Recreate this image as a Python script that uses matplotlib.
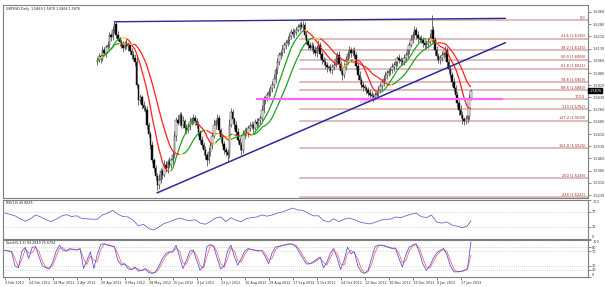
import numpy as np
import pandas as pd
import matplotlib

matplotlib.use("Agg")
import matplotlib.pyplot as plt
from matplotlib.collections import LineCollection
from matplotlib.transforms import blended_transform_factory

# ---- data --------------------------------------------------------------------
first_bar = 54          # bars before this have no candles drawn
first_open = 1.6050

closes = [
    1.6065, 1.6090, 1.6072, 1.6126, 1.6110, 1.6145, 1.6157, 1.6219, 1.6205, 1.6250,
    1.6286, 1.6219, 1.6195, 1.6176, 1.6160, 1.6139, 1.6168, 1.6150, 1.6157, 1.6120,
    1.6096, 1.6080, 1.6053, 1.5911, 1.5819, 1.5835, 1.5788, 1.5770, 1.5757, 1.5665,
    1.5610, 1.5542, 1.5450, 1.5400, 1.5350, 1.5296, 1.5330, 1.5380, 1.5360, 1.5420,
    1.5400, 1.5440, 1.5420, 1.5450, 1.5480, 1.5600, 1.5696, 1.5680, 1.5727, 1.5665,
    1.5690, 1.5650, 1.5634, 1.5660, 1.5683, 1.5700, 1.5708, 1.5690, 1.5665, 1.5620,
    1.5573, 1.5540, 1.5511, 1.5480, 1.5450, 1.5500, 1.5542, 1.5600, 1.5665, 1.5690,
    1.5708, 1.5634, 1.5590, 1.5550, 1.5511, 1.5500, 1.5481, 1.5665, 1.5745, 1.5700,
    1.5665, 1.5620, 1.5573, 1.5540, 1.5511, 1.5604, 1.5630, 1.5615, 1.5647, 1.5660,
    1.5665, 1.5650, 1.5683, 1.5670, 1.5695, 1.5708, 1.5760, 1.5819, 1.5830, 1.5850,
    1.5870, 1.5890, 1.5911, 1.5950, 1.6003, 1.6050, 1.6096, 1.6110, 1.6135, 1.6157,
    1.6170, 1.6188, 1.6210, 1.6237, 1.6225, 1.6240, 1.6249, 1.6265, 1.6280, 1.6270,
    1.6280, 1.6219, 1.6180, 1.6157, 1.6140, 1.6150, 1.6126, 1.6110, 1.6139, 1.6157,
    1.6100, 1.6065, 1.6050, 1.6034, 1.6020, 1.6015, 1.6003, 1.6020, 1.6034, 1.6070,
    1.6096, 1.6040, 1.6000, 1.5972, 1.6020, 1.6065, 1.6100, 1.6126, 1.6110, 1.6120,
    1.6096, 1.6030, 1.5972, 1.5940, 1.5911, 1.5900, 1.5890, 1.5880, 1.5865, 1.5850,
    1.5845, 1.5837, 1.5850, 1.5865, 1.5880, 1.5905, 1.5929, 1.5950, 1.5972, 1.5985,
    1.5995, 1.6003, 1.6020, 1.6034, 1.6050, 1.6077, 1.6065, 1.6060, 1.6053, 1.6075,
    1.6096, 1.6125, 1.6157, 1.6190, 1.6220, 1.6249, 1.6219, 1.6200, 1.6195, 1.6188,
    1.6170, 1.6157, 1.6165, 1.6176, 1.6200, 1.6249, 1.6190, 1.6126, 1.6090, 1.6065,
    1.6080, 1.6096, 1.6110, 1.6126, 1.6053, 1.6010, 1.5972, 1.5930, 1.5893, 1.5850,
    1.5800, 1.5760, 1.5730, 1.5700, 1.5690, 1.5705, 1.5720, 1.5830, 1.5876,
]

# wick lengths in pips above / below the candle body
upper_wick = [
    14, 20, 11, 25, 16, 12, 22, 18, 15, 24, 13, 19, 26, 12, 17, 21, 14, 23, 16, 11,
    18, 25, 20, 30, 15, 22, 17, 28, 19, 24, 21, 16, 27, 13, 20, 18, 35, 22, 15, 29,
    24, 17, 31, 14, 22, 26, 19, 33, 21, 16, 28, 15, 23, 18, 30, 12, 25, 20, 17, 27,
    14, 22, 19, 26, 16, 32, 21, 18, 35, 15, 24, 20, 13, 28, 17, 22, 18, 40, 26, 19,
    15, 23, 29, 17, 21, 30, 16, 25, 18, 22, 27, 14, 20, 24, 16, 19, 28, 22, 15, 21,
    25, 18, 23, 30, 17, 26, 20, 14, 22, 19, 16, 24, 18, 21, 27, 15, 20, 23, 18, 25,
    22, 19, 26, 15, 21, 28, 17, 24, 20, 30, 18, 23, 16, 27, 21, 14, 25, 19, 22, 28,
    17, 24, 20, 15, 29, 22, 18, 26, 16, 21, 25, 19, 14, 23, 18, 27, 20, 16, 22, 19,
    24, 17, 21, 15, 26, 20, 18, 23, 28, 16, 22, 19, 25, 17, 21, 14, 27, 20, 18, 24,
    16, 23, 19, 28, 21, 26, 18, 22, 15, 25, 20, 17, 24, 19, 30, 93, 22, 18, 26, 20,
    15, 23, 19, 28, 17, 21, 25, 18, 22, 16, 24, 19, 27, 20, 15, 23, 18, 26, 10,
]
lower_wick = [
    18, 12, 24, 15, 20, 27, 13, 19, 22, 16, 21, 17, 14, 26, 19, 23, 15, 20, 28, 18,
    24, 16, 22, 19, 30, 17, 25, 21, 14, 27, 19, 23, 17, 26, 20, 31, 24, 18, 29, 15,
    22, 27, 16, 21, 25, 18, 30, 14, 23, 20, 17, 26, 21, 15, 24, 19, 28, 22, 16, 25,
    20, 18, 27, 23, 35, 17, 22, 26, 15, 21, 24, 19, 28, 16, 22, 25, 38, 20, 14, 23,
    27, 18, 21, 25, 32, 16, 24, 19, 22, 17, 21, 26, 15, 23, 19, 28, 17, 22, 25, 18,
    14, 24, 20, 17, 26, 21, 15, 23, 19, 27, 22, 18, 25, 16, 20, 24, 19, 13, 21, 17,
    26, 20, 18, 23, 15, 22, 27, 19, 24, 16, 21, 25, 18, 22, 28, 20, 17, 24, 19, 15,
    23, 27, 21, 30, 18, 16, 22, 20, 25, 19, 17, 24, 28, 21, 19, 23, 16, 26, 20, 30,
    22, 28, 18, 24, 20, 17, 25, 21, 15, 23, 19, 24, 16, 22, 27, 20, 18, 25, 21, 17,
    23, 19, 26, 15, 22, 20, 28, 24, 18, 21, 25, 17, 22, 27, 19, 24, 20, 28, 23, 18,
    26, 21, 17, 24, 30, 22, 19, 27, 23, 28, 25, 30, 22, 26, 25, 20, 28, 24, 12,
]

# RSI(14), read every 3 bars (last point is the final bar)
rsi_bars = list(range(0, 271, 3)) + [272]
rsi_values = [
    66, 63, 59, 51, 45, 51, 61, 56, 49, 44, 50, 58, 62, 57, 59, 52, 51, 50, 50, 61,
    66, 73, 63, 57, 56, 47, 33, 37, 26, 22, 30, 39, 43, 49, 53, 49, 46, 49, 40, 37,
    44, 53, 56, 44, 54, 47, 44, 52, 54, 56, 61, 58, 61, 66, 69, 74, 79, 74, 73, 66,
    59, 59, 47, 43, 51, 44, 50, 53, 49, 43, 40, 38, 42, 47, 50, 50, 56, 54, 59, 63,
    66, 57, 54, 61, 43, 40, 43, 35, 32, 28, 33, 45.86,
]

# Stochastic %K, read every 2 bars
stoch_bars = list(range(0, 273, 2))
stoch_main = [
    72, 70, 68, 30, 25, 70, 80, 50, 80, 82, 55, 30, 25, 22, 40, 70, 86, 72, 70, 77,
    74, 73, 77, 23, 45, 68, 23, 60, 88, 90, 86, 84, 81, 45, 32, 36, 22, 20, 27, 16,
    18, 23, 12, 10, 14, 30, 50, 63, 68, 68, 86, 55, 23, 45, 70, 72, 45, 18, 30, 82,
    88, 81, 50, 22, 30, 70, 86, 55, 32, 50, 70, 77, 74, 72, 70, 72, 55, 36, 65, 81,
    83, 86, 87, 90, 88, 82, 65, 50, 35, 36, 41, 48, 54, 25, 40, 65, 77, 50, 20, 45,
    81, 63, 68, 30, 14, 10, 18, 50, 82, 86, 86, 83, 80, 77, 78, 50, 27, 60, 81, 86,
    90, 65, 35, 18, 30, 50, 65, 72, 77, 60, 30, 14, 14, 15, 18, 23, 94.28,
]

date_ticks = [
    "3 Feb 2012", "24 Feb 2012", "14 Mar 2012", "2 Apr 2012", "20 Apr 2012",
    "9 May 2012", "28 May 2012", "15 Jun 2012", "4 Jul 2012", "23 Jul 2012",
    "10 Aug 2012", "29 Aug 2012", "17 Sep 2012", "5 Oct 2012", "24 Oct 2012",
    "12 Nov 2012", "30 Nov 2012", "19 Dec 2012", "8 Jan 2013", "27 Jan 2013",
]
bars_per_tick = 14

fib_ratios = ["0.0", "23.6", "38.2", "50.0", "61.8", "78.6", "88.6", "100.0",
              "113", "127.2", "161.8", "200", "224"]
fib_prices = [1.6311, 1.6196, 1.6125, 1.6068, 1.6011, 1.5929, 1.5880, 1.5825,
              1.5762, 1.5693, 1.5525, 1.5339, 1.5222]
fib_start_bar = 172

top_line = ([64, 292], [1.6300, 1.6321])
trend_line = ([89, 292], [1.5249, 1.6171])
pivot_line = ([147, 290], [1.5825, 1.5825])

price_ticks = [1.6360, 1.6285, 1.6210, 1.6135, 1.6060, 1.5985, 1.5910, 1.5835,
               1.5760, 1.5685, 1.5610, 1.5535, 1.5460, 1.5385, 1.5310, 1.5235]
last_price = 1.5876

# ---- derived candle arrays ---------------------------------------------------
close = np.array(closes)
idx = np.arange(first_bar, first_bar + len(close))
opn = np.concatenate([[first_open], close[:-1]])
high = np.maximum(opn, close) + np.array(upper_wick) * 1e-4
low = np.minimum(opn, close) - np.array(lower_wick) * 1e-4

# ---- figure ------------------------------------------------------------------
W, H = 605, 287
fig = plt.figure(figsize=(W / 100, H / 100), dpi=100)


def box(x0, y0, x1, y1):
    return [x0 / W, 1 - y1 / H, (x1 - x0) / W, (y1 - y0) / H]


ax = fig.add_axes(box(3, 5, 588, 198))
ax_rsi = fig.add_axes(box(3, 200, 588, 238.5), sharex=ax)
ax_st = fig.add_axes(box(3, 240, 588, 277), sharex=ax)

FS = 2.5
for a in (ax, ax_rsi, ax_st):
    for s in a.spines.values():
        s.set_color("#7f7f7f")
        s.set_linewidth(0.8)
    a.yaxis.tick_right()
    a.tick_params(axis="y", length=2, width=0.4, labelsize=FS, pad=1, colors="#333333")
    a.tick_params(axis="x", length=0, labelbottom=False)

ax.set_xlim(-1, 340.3)
ax.set_ylim(1.5217, 1.6403)

# candles
up = close >= opn
ax.vlines(idx, low, high, color="#707070", lw=0.7, zorder=2)
ax.bar(idx, close - opn, bottom=opn, width=0.85,
       color=np.where(up, "white", "black"), edgecolor="#202020", lw=0.35, zorder=3)


def colored_ma(a, x, y):
    pts = np.column_stack([x, y])
    segs = np.stack([pts[:-1], pts[1:]], axis=1)
    d = np.sign(np.diff(y))
    cols = []
    for k in range(len(d)):
        if k > 0 and d[k] != d[k - 1]:
            cols.append("#ffd200")
        else:
            cols.append("#1b9e1b" if d[k] >= 0 else "#ff1a1a")
    a.add_collection(LineCollection(segs, colors=cols, lw=0.9, zorder=4))


s = pd.Series(close)
for n in (10, 20):
    ma = s.rolling(n, min_periods=1).mean().to_numpy()
    colored_ma(ax, idx, ma)

# fibonacci levels
xr = ax.get_xlim()[1]
trans = blended_transform_factory(ax.transAxes, ax.transData)
for r, p in zip(fib_ratios, fib_prices):
    ax.plot([fib_start_bar, xr], [p, p], color="#d7a9a9", lw=1.1, zorder=1)
    txt = r if r in ("0.0", "100.0") else f"{r} ({p:.4f})"
    ax.text(0.995, p + 0.0002, txt, transform=trans, ha="right", va="bottom",
            fontsize=FS, color="#9b1c1c")

ax.plot(*pivot_line, color="#ff66ff", lw=1.6, zorder=5)
ax.text(210, pivot_line[1][0] - 0.0006, "1.5825", ha="center", va="top",
        fontsize=FS, color="#ff44ff")
ax.plot(*top_line, color="#2a2a9a", lw=1.0, zorder=5)
ax.plot(*trend_line, color="#2a2a9a", lw=1.1, zorder=5)

ax.set_yticks(price_ticks)
ax.set_yticklabels([f"{t:.4f}" for t in price_ticks])
ax.text(1.002, last_price, f"{last_price:.4f}", transform=trans, ha="left", va="center",
        fontsize=FS, color="white",
        bbox=dict(boxstyle="square,pad=0.2", fc="black", ec="black"))
ax.text(0.005, 0.99, "GBPUSD,Daily  1.5869 1.5878 1.5868 1.5876", transform=ax.transAxes,
        ha="left", va="top", fontsize=2.3, color="#222222")

# RSI
grid = dict(color="#b8b8b8", lw=0.5, ls=(0, (1, 2)))
ax_rsi.set_ylim(0, 100)
for g in (70, 30):
    ax_rsi.axhline(g, **grid)
ax_rsi.plot(rsi_bars, rsi_values, color="#6a6ad0", lw=0.6)
ax_rsi.set_yticks([100, 70, 30, 0])
ax_rsi.set_yticklabels(["100", "70", "30", "0"])
ax_rsi.text(0.005, 0.97, "RSI(14) 45.8645", transform=ax_rsi.transAxes,
            ha="left", va="top", fontsize=2.3, color="#222222")

# Stochastic
st_main = pd.Series(stoch_main)
st_sig = st_main.rolling(2, min_periods=1).mean()
ax_st.set_ylim(0, 100)
for g in (80, 70, 30, 20):
    ax_st.axhline(g, **grid)
ax_st.plot(stoch_bars, st_sig, color="#ff6a6a", lw=0.6)
ax_st.plot(stoch_bars, st_main, color="#5a5ae0", lw=0.6)
ax_st.set_yticks([100, 80, 70, 30, 20, 0])
ax_st.set_yticklabels(["100", "80", "70", "30", "20", "0"])
ax_st.text(0.005, 0.97, "Stoch(5,3,3) 94.2849 75.6704", transform=ax_st.transAxes,
           ha="left", va="top", fontsize=2.3, color="#222222")

for a in (ax_rsi, ax_st):
    labs = a.get_yticklabels()
    labs[0].set_va("top")
    labs[-1].set_va("bottom")

ax_st.set_xticks(np.arange(len(date_ticks)) * bars_per_tick)
ax_st.set_xticklabels(date_ticks)
ax_st.tick_params(axis="x", length=2, width=0.4, labelsize=2.4, pad=1,
                  labelbottom=True, colors="#333333")
for lab in ax_st.get_xticklabels():
    lab.set_ha("left")

fig.savefig("out.png", dpi=100)
